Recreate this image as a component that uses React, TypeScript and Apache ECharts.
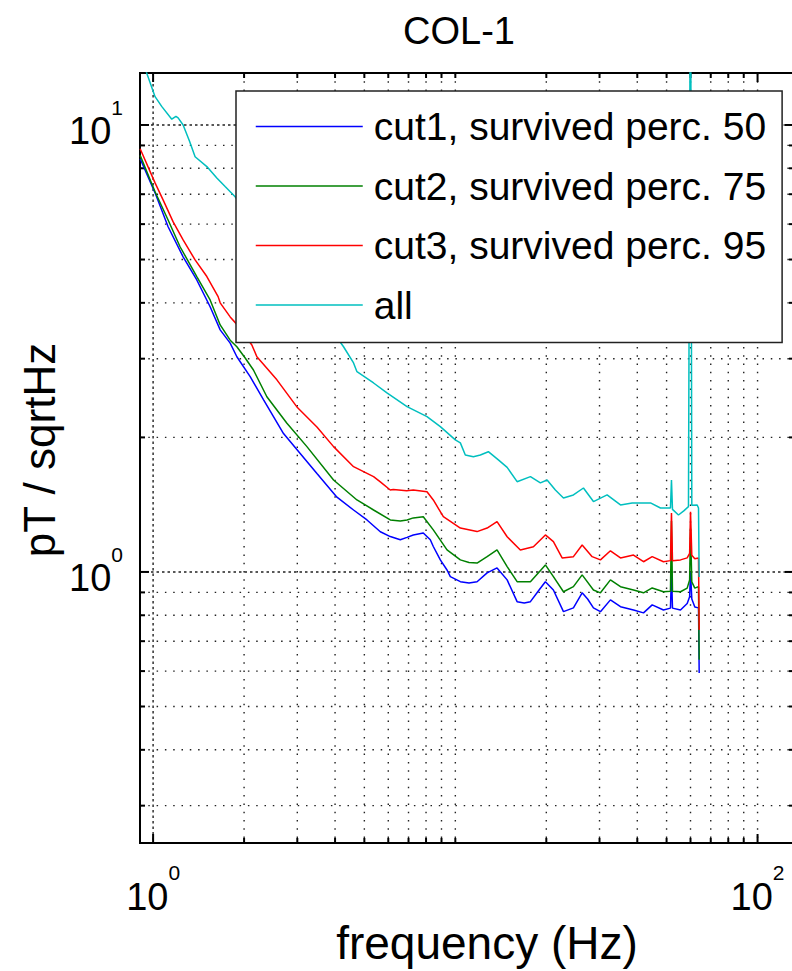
import React, { useEffect, useRef } from 'react';
import * as echarts from 'echarts';

const FONT = '"Liberation Sans", Arial, Helvetica, sans-serif';

const titleText = 'COL-1';
const xAxisTitle = 'frequency (Hz)';
const yAxisTitle = 'pT / sqrtHz';

const seriesNames = [
  'cut1, survived perc. 50',
  'cut2, survived perc. 75',
  'cut3, survived perc. 95',
  'all',
];
const seriesColors = ['#0000ff', '#008000', '#ff0000', '#00bfbf'];

// [frequency Hz, amplitude pT/sqrtHz]
const cut1: number[][] = [
  [0.906, 8.4], [1.015, 7.05], [1.121, 5.92], [1.257, 5.07], [1.395, 4.5], [1.544, 3.92],
  [1.667, 3.48], [1.799, 3.25], [1.893, 3.03], [2.095, 2.735], [2.318, 2.43], [2.701, 2.04],
  [3.067, 1.84], [3.484, 1.66], [4.058, 1.47], [4.605, 1.376], [5.101, 1.307], [5.647, 1.23],
  [6.092, 1.2], [6.575, 1.18], [6.92, 1.195], [7.259, 1.21], [7.834, 1.222], [8.264, 1.18],
  [8.455, 1.14], [8.92, 1.064], [9.387, 1.01], [9.625, 0.976], [10.39, 0.951], [11.1, 0.945],
  [11.8, 0.951], [12.74, 0.995], [13.74, 1.021], [14.84, 0.96], [16.01, 0.858], [16.9, 0.852],
  [17.72, 0.858], [18.9, 0.91], [19.86, 0.951], [21.11, 0.911], [22.79, 0.815], [24.59, 0.831],
  [26.28, 0.898], [27.4, 0.87], [28.64, 0.831], [30.21, 0.815], [32.6, 0.866], [35.19, 0.836],
  [38.86, 0.822], [41.94, 0.81], [44.81, 0.844], [48.83, 0.822], [51.5, 0.83], [51.9, 1.0],
  [52.3, 0.83], [55.59, 0.822], [58.5, 0.85], [59.6, 0.88], [60.0, 1.0], [60.6, 0.87],
  [62.0, 0.835], [63.77, 0.831], [64.1, 0.594],
];

const cut2: number[][] = [
  [0.906, 8.55], [1.015, 7.09], [1.121, 6.13], [1.228, 5.34], [1.395, 4.58], [1.544, 4.06],
  [1.667, 3.57], [1.799, 3.3], [1.893, 3.19], [2.017, 3.01], [2.148, 2.83], [2.379, 2.466],
  [2.772, 2.151], [3.228, 1.907], [3.954, 1.606], [4.726, 1.449], [5.364, 1.376], [6.092, 1.307],
  [6.575, 1.3], [6.921, 1.307], [7.259, 1.321], [7.834, 1.329], [8.455, 1.242], [9.387, 1.12],
  [10.39, 1.064], [11.1, 1.05], [11.8, 1.047], [12.74, 1.082], [13.74, 1.12], [14.84, 1.028],
  [16.01, 0.951], [17.72, 0.951], [19.86, 1.037], [21.11, 0.976], [22.79, 0.903], [24.59, 0.927],
  [26.28, 0.985], [28.64, 0.911], [30.21, 0.898], [32.6, 0.96], [35.19, 0.927], [38.86, 0.911],
  [41.94, 0.898], [44.81, 0.921], [48.83, 0.903], [51.5, 0.905], [51.9, 1.3], [52.3, 0.905],
  [55.59, 0.903], [58.5, 0.92], [59.6, 0.96], [60.0, 1.25], [60.6, 0.95], [62.0, 0.92],
  [63.77, 0.927], [64.1, 0.636],
];

const cut3: number[][] = [
  [0.906, 8.85], [1.015, 7.42], [1.079, 6.8], [1.165, 6.07], [1.257, 5.53], [1.377, 4.99],
  [1.506, 4.58], [1.641, 4.13], [1.667, 4.0], [1.799, 3.72], [1.893, 3.58], [2.122, 3.22],
  [2.205, 3.03], [2.568, 2.69], [2.991, 2.34], [3.484, 2.11], [3.954, 1.907], [4.605, 1.72],
  [5.364, 1.634], [5.647, 1.59], [6.092, 1.525], [6.233, 1.53], [6.9, 1.52], [7.259, 1.525],
  [8.059, 1.512], [8.455, 1.449], [9.127, 1.329], [10.39, 1.254], [11.8, 1.231], [12.74, 1.254],
  [13.74, 1.296], [14.84, 1.199], [16.41, 1.12], [18.13, 1.139], [19.86, 1.21], [21.11, 1.169],
  [22.56, 1.075], [24.59, 1.082], [26.28, 1.149], [28.36, 1.082], [30.21, 1.064], [32.6, 1.115],
  [35.19, 1.075], [38.86, 1.091], [41.94, 1.054], [44.81, 1.082], [48.83, 1.054], [51.5, 1.06],
  [51.9, 1.355], [52.3, 1.06], [55.59, 1.064], [58.5, 1.075], [59.6, 1.1], [60.0, 1.364],
  [60.6, 1.09], [62.0, 1.07], [63.77, 1.075], [64.1, 0.742],
];

const allData: number[][] = [
  [0.906, 14.6], [0.953, 13.05], [1.015, 11.57], [1.069, 10.99], [1.153, 10.3], [1.19, 10.45],
  [1.21, 10.37], [1.257, 10.0], [1.32, 9.2], [1.377, 8.49], [1.506, 8.07], [1.625, 7.61],
  [1.731, 7.28], [1.868, 6.91], [2.84, 4.69], [4.267, 3.19], [4.605, 2.935], [4.726, 2.806],
  [5.364, 2.647], [5.939, 2.515], [6.921, 2.343], [8.059, 2.226], [8.92, 2.114], [10.0, 1.974],
  [10.39, 1.944], [10.79, 1.827], [11.47, 1.811], [12.1, 1.827], [12.86, 1.858], [13.88, 1.781],
  [14.84, 1.714], [16.01, 1.592], [17.72, 1.634], [19.12, 1.582], [20.12, 1.606], [21.43, 1.525],
  [22.79, 1.464], [24.59, 1.487], [26.54, 1.541], [28.64, 1.437], [31.78, 1.487], [35.19, 1.412],
  [38.47, 1.427], [44.23, 1.427], [47.73, 1.39], [51.5, 1.39], [51.9, 1.606], [52.3, 1.38],
  [54.74, 1.341], [57.0, 1.37], [59.07, 1.4], [60.0, 30], [60.6, 1.41], [63.13, 1.412],
  [63.77, 1.39], [64.1, 0.974],
];

const seriesData = [cut1, cut2, cut3, allData];

// axis ranges
const xMin = 0.905;
const xMax = 132;
const yMin = 0.2475;
const yMax = 13.07;

// grid lines / ticks
const xGridValues = [1, 2, 3, 4, 5, 6, 7, 8, 9, 10, 20, 30, 40, 50, 60, 70, 80, 90, 100];
const yGridValues = [0.3, 0.4, 0.5, 0.6, 0.7, 0.8, 0.9, 1, 2, 3, 4, 5, 6, 7, 8, 9, 10];
const xMajorValues = [1, 100];
const yMajorValues = [1, 10];
const xLabelExponents = [0, 2];
const yLabelExponents = [0, 1];

function expLabel(v: number, allowed: number[]): string {
  const e = Math.round(Math.log10(v));
  const p = Math.pow(10, e);
  if (Math.abs(v - p) / p < 1e-6 && allowed.includes(e)) return `{b|10}{s|${e}}`;
  return '';
}

const richLabel = {
  b: { fontSize: 38, fontFamily: FONT, color: '#000', lineHeight: 69 },
  s: { fontSize: 21, fontFamily: FONT, color: '#000', lineHeight: 21, verticalAlign: 'top' },
};

export default function App() {
  const ref = useRef<HTMLDivElement>(null);

  useEffect(() => {
    if (!ref.current) return;
    const chart = echarts.init(ref.current, null, { renderer: 'svg' });

    const xGridSeries = {
      type: 'custom',
      name: 'xgrid',
      z: 1,
      silent: true,
      data: xGridValues.map((v) => [v, 1]),
      encode: { x: 0, y: 1 },
      renderItem: (params: any, api: any) => {
        const v = api.value(0);
        const p = api.coord([v, 1]);
        const cs = params.coordSys;
        const top = cs.y;
        const bottom = cs.y + cs.height;
        const major = xMajorValues.includes(v);
        const tl = major ? 9 : 5;
        return {
          type: 'group',
          children: [
            {
              type: 'line',
              shape: { x1: p[0], y1: top, x2: p[0], y2: bottom },
              style: { stroke: '#222', lineWidth: 1.4, lineDash: v === 1 ? [2.5, 3] : [1.5, 6.8] },
            },
            { type: 'line', shape: { x1: p[0], y1: bottom, x2: p[0], y2: bottom - tl }, style: { stroke: '#000', lineWidth: 2 } },
            { type: 'line', shape: { x1: p[0], y1: top, x2: p[0], y2: top + tl }, style: { stroke: '#000', lineWidth: 2 } },
          ],
        };
      },
    };

    const yGridSeries = {
      type: 'custom',
      name: 'ygrid',
      z: 1,
      silent: true,
      data: yGridValues.map((v) => [1, v]),
      encode: { x: 0, y: 1 },
      renderItem: (params: any, api: any) => {
        const v = api.value(1);
        const p = api.coord([1, v]);
        const cs = params.coordSys;
        const left = cs.x;
        const right = cs.x + cs.width;
        const major = yMajorValues.includes(v);
        const tl = major ? 9 : 5;
        return {
          type: 'group',
          children: [
            {
              type: 'line',
              shape: { x1: left, y1: p[1], x2: right, y2: p[1] },
              style: { stroke: '#222', lineWidth: 1.4, lineDash: major ? [2.5, 3] : [1.5, 6.8] },
            },
            { type: 'line', shape: { x1: left, y1: p[1], x2: left + tl, y2: p[1] }, style: { stroke: '#000', lineWidth: 2 } },
            { type: 'line', shape: { x1: right, y1: p[1], x2: right - tl, y2: p[1] }, style: { stroke: '#000', lineWidth: 2 } },
          ],
        };
      },
    };

    const lineSeries = seriesNames.map((name, i) => ({
      type: 'line',
      name,
      data: seriesData[i],
      symbol: 'none',
      showSymbol: false,
      z: 2 + i * 0.01,
      lineStyle: { color: seriesColors[i], width: 1.5 },
      itemStyle: { color: seriesColors[i] },
      clip: true,
    }));

    chart.setOption({
      animation: false,
      backgroundColor: '#fff',
      textStyle: { fontFamily: FONT },
      grid: {
        left: 140,
        top: 73,
        width: 654,
        height: 770,
        show: true,
        borderColor: '#000',
        borderWidth: 2,
        backgroundColor: '#fff',
        containLabel: false,
        outerBoundsMode: 'none',
      },
      xAxis: {
        type: 'log',
        logBase: 10,
        min: xMin,
        max: xMax,
        axisLine: { show: false },
        axisTick: { show: false },
        splitLine: { show: false },
        minorTick: { show: false },
        axisLabel: {
          interval: 0,
          margin: 19,
          formatter: (v: number) => expLabel(v, xLabelExponents),
          rich: richLabel,
        },
      },
      yAxis: {
        type: 'log',
        logBase: 10,
        min: yMin,
        max: yMax,
        axisLine: { show: false },
        axisTick: { show: false },
        splitLine: { show: false },
        minorTick: { show: false },
        axisLabel: {
          interval: 0,
          margin: 17,
          padding: [13, 0, 0, 0],
          formatter: (v: number) => expLabel(v, yLabelExponents),
          rich: richLabel,
        },
      },
      legend: {
        data: seriesNames,
        orient: 'vertical',
        left: 236,
        top: 91,
        itemWidth: 107,
        itemHeight: 40,
        itemGap: 20.5,
        padding: [16, 16, 18, 19],
        backgroundColor: '#fff',
        borderColor: '#222',
        borderWidth: 1.5,
        borderRadius: 0,
        selectedMode: false,
        itemStyle: { opacity: 0, borderWidth: 0 },
        lineStyle: { width: 1.5 },
        textStyle: { fontSize: 39, fontFamily: FONT, color: '#000', padding: [0, 0, 0, 6] },
      },
      graphic: [
        {
          type: 'text',
          x: 459,
          y: 31,
          style: {
            text: titleText,
            fontSize: 38,
            fontFamily: FONT,
            fill: '#000',
            align: 'center',
            verticalAlign: 'middle',
            textAlign: 'center',
            textVerticalAlign: 'middle',
          },
        },
        {
          type: 'text',
          x: 487,
          y: 943,
          style: {
            text: xAxisTitle,
            fontSize: 46,
            fontFamily: FONT,
            fill: '#000',
            align: 'center',
            verticalAlign: 'middle',
            textAlign: 'center',
            textVerticalAlign: 'middle',
          },
        },
        {
          type: 'text',
          x: 39,
          y: 450,
          rotation: Math.PI / 2,
          style: {
            text: yAxisTitle,
            fontSize: 44,
            fontFamily: FONT,
            fill: '#000',
            align: 'center',
            verticalAlign: 'middle',
            textAlign: 'center',
            textVerticalAlign: 'middle',
          },
        },
      ],
      series: [xGridSeries, yGridSeries, ...lineSeries],
    });

    return () => chart.dispose();
  }, []);

  return (
    <div
      ref={ref}
      style={{ position: 'absolute', left: 0, top: 0, width: 792, height: 971, background: '#fff' }}
    />
  );
}
